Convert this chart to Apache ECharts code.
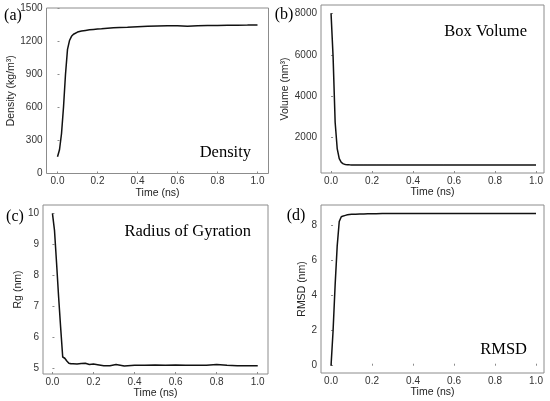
<!DOCTYPE html>
<html>
<head>
<meta charset="utf-8">
<script src="https://cdn.jsdelivr.net/npm/echarts@6/dist/echarts.min.js"></script>
<style>
    html, body { margin: 0; padding: 0; background: #fff; }
    #chart { width: 550px; height: 401px; }
</style>
</head>
<body>
<div id="chart"></div>
<script>
// sampled time points (ns), shared by all four panels
var timeNs = [0, 0.01, 0.02, 0.03, 0.04, 0.05, 0.06, 0.07, 0.08, 0.09, 0.10,
    0.12, 0.14, 0.16, 0.18, 0.20, 0.22, 0.25, 0.28, 0.31, 0.35, 0.40, 0.45,
    0.50, 0.55, 0.60, 0.65, 0.70, 0.75, 0.80, 0.85, 0.90, 0.95, 1.00];

var density = [152, 215, 360, 600, 900, 1125, 1205, 1243, 1262, 1274, 1282,
    1292, 1297, 1302, 1306, 1309, 1312, 1317, 1320, 1323, 1326, 1331, 1334,
    1336, 1338, 1340, 1335, 1339, 1341, 1342, 1343, 1344, 1345, 1347];

var volume = [8000, 5900, 2750, 1480, 990, 810, 740, 712, 700, 694, 690,
    688, 687, 686, 685, 685, 684, 684, 683, 683, 683, 682, 682,
    682, 681, 681, 681, 681, 680, 680, 680, 680, 680, 680];

var rg = [10, 9.45, 8.4, 7.3, 6.3, 5.35, 5.31, 5.22, 5.15, 5.13, 5.13,
    5.12, 5.14, 5.15, 5.11, 5.12, 5.10, 5.07, 5.07, 5.11, 5.06, 5.08, 5.08,
    5.09, 5.08, 5.09, 5.08, 5.08, 5.08, 5.11, 5.08, 5.07, 5.07, 5.07];

var rmsd = [0, 2.0, 4.6, 6.8, 8.2, 8.47, 8.52, 8.55, 8.58, 8.60, 8.61,
    8.62, 8.63, 8.63, 8.64, 8.64, 8.64, 8.65, 8.65, 8.65, 8.65, 8.65, 8.65,
    8.65, 8.66, 8.66, 8.66, 8.66, 8.66, 8.66, 8.66, 8.66, 8.66, 8.66];

var timeTicks = [0, 0.2, 0.4, 0.6, 0.8, 1.0];
var densityTicks = [0, 300, 600, 900, 1200, 1500];
var volumeTicks = [2000, 4000, 6000, 8000];
var rgTicks = [5, 6, 7, 8, 9, 10];
var rmsdTicks = [0, 2, 4, 6, 8];

var panelLetters = ['(a)', '(b)', '(c)', '(d)'];
var panelTitles = ['Density', 'Box Volume', 'Radius of Gyration', 'RMSD'];
var yNames = ['Density (kg/m\u00b3)', 'Volume (nm\u00b3)', 'Rg (nm)', 'RMSD (nm)'];

var chart = echarts.init(document.getElementById('chart'));

var sans = '"Liberation Sans", Arial, sans-serif';
var serif = '"Liberation Serif", "Times New Roman", serif';

// plot boxes: left, top, width, height (px)
var boxes = [
    [46.5, 8, 222, 165.5],
    [321, 5, 223, 168],
    [43, 205, 225, 169],
    [321, 205, 223, 168]
];
var yRanges = [[0, 1500], [300, 8400], [4.8, 10.27], [-0.415, 9.14]];
var xRanges = [[-0.055, 1.055], [-0.049, 1.039], [-0.046, 1.05], [-0.049, 1.039]];
var yTickSets = [densityTicks, volumeTicks, rgTicks, rmsdTicks];
var yNameGaps = [25, 27, 14, 9];
var seriesData = [density, volume, rg, rmsd];

function pairs(xs, ys) {
    var out = [];
    for (var i = 0; i < xs.length; i++) {
        out.push([xs[i], ys[i]]);
    }
    return out;
}

var grids = [], xAxes = [], yAxes = [], series = [];
for (var i = 0; i < 4; i++) {
    var b = boxes[i];
    grids.push({
        left: b[0], top: b[1], width: b[2], height: b[3],
        show: true, borderColor: '#8c8c8c', borderWidth: 1,
        backgroundColor: 'transparent',
        containLabel: false, outerBoundsMode: 'none'
    });
    xAxes.push({
        type: 'value', gridIndex: i,
        min: xRanges[i][0], max: xRanges[i][1],
        name: 'Time (ns)', nameLocation: 'middle', nameGap: 12,
        nameTextStyle: { fontFamily: sans, fontSize: 10.5, color: '#222' },
        axisLine: { show: false },
        axisTick: { show: true, inside: true, length: 2, customValues: timeTicks,
            lineStyle: { color: '#8c8c8c' } },
        axisLabel: { customValues: timeTicks, margin: 3, fontFamily: sans, fontSize: 10,
            color: '#333', formatter: function (v) { return v.toFixed(1); } },
        splitLine: { show: false }
    });
    yAxes.push({
        type: 'value', gridIndex: i,
        min: yRanges[i][0], max: yRanges[i][1],
        name: yNames[i], nameLocation: 'middle', nameGap: yNameGaps[i],
        nameTextStyle: { fontFamily: sans, fontSize: 10.5, color: '#222' },
        axisLine: { show: false },
        axisTick: { show: true, inside: true, length: 2, customValues: yTickSets[i],
            lineStyle: { color: '#8c8c8c' } },
        axisLabel: { customValues: yTickSets[i], margin: 4, fontFamily: sans, fontSize: 10,
            color: '#333', formatter: function (v) { return String(v); } },
        splitLine: { show: false }
    });
    series.push({
        type: 'line', xAxisIndex: i, yAxisIndex: i,
        data: pairs(timeNs, seriesData[i]),
        showSymbol: false, symbol: 'none',
        lineStyle: { color: '#111', width: 1.5 },
        silent: true
    });
}

// panel letters and in-plot titles
var letterPos = [[13, 16], [284, 15], [15, 217], [296, 216]];
var titlePos = [[251, 153], [527, 32], [251, 232], [527, 350]];
var graphics = [];
for (var j = 0; j < 4; j++) {
    graphics.push({
        type: 'text', x: letterPos[j][0], y: letterPos[j][1],
        style: { text: panelLetters[j], font: '16px ' + serif, fill: '#000',
            align: 'center', verticalAlign: 'middle' }
    });
    graphics.push({
        type: 'text', x: titlePos[j][0], y: titlePos[j][1],
        style: { text: panelTitles[j], font: '16.5px ' + serif, fill: '#000',
            align: 'right', verticalAlign: 'middle' }
    });
}

chart.setOption({
    animation: false,
    backgroundColor: '#fff',
    grid: grids,
    xAxis: xAxes,
    yAxis: yAxes,
    series: series,
    graphic: graphics
});
</script>
</body>
</html>
